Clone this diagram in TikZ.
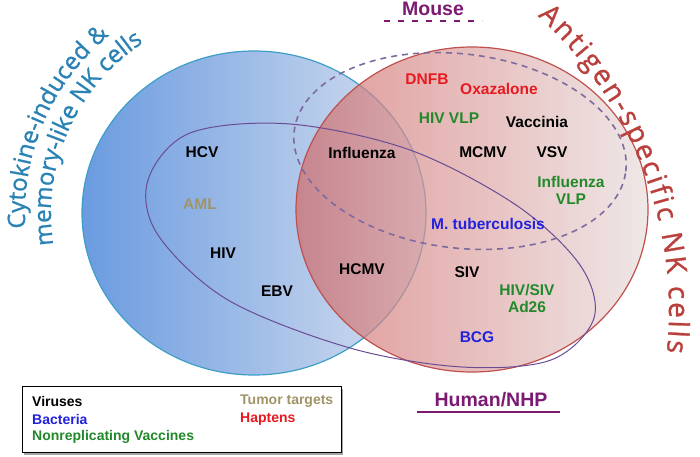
\documentclass[tikz,border=0pt]{standalone}
\usepackage{fontspec}
\setmainfont{Liberation Sans}
\newfontfamily\arcfont[FakeBold=1]{Open Sans}
\usetikzlibrary{decorations.text}
\definecolor{cytblue}{HTML}{2A82B4}
\definecolor{agred}{HTML}{B9403D}
\definecolor{bluedge}{HTML}{3D9FC7}
\definecolor{bluel}{HTML}{6A9BE0}
\definecolor{bluer}{HTML}{D8E0EF}
\definecolor{rededge}{HTML}{C0504D}
\definecolor{redl}{HTML}{D16A68}
\definecolor{redr}{HTML}{E8DDDD}
\definecolor{humline}{HTML}{6A4C93}
\definecolor{mouseline}{HTML}{7D6B9E}
\definecolor{sppurple}{HTML}{7B1A70}
\definecolor{bacblue}{HTML}{2222DD}
\definecolor{vacgreen}{HTML}{22892A}
\definecolor{tumtan}{HTML}{A09468}
\definecolor{hapred}{HTML}{E8191F}

\begin{document}
\begin{tikzpicture}[x=1pt, y=1pt,
    lbl/.style={font=\bfseries\fontsize{15.5}{17}\selectfont, align=center, inner sep=0pt},
    leg/.style={font=\bfseries\fontsize{14}{16}\selectfont, anchor=west, inner sep=0pt},
    sp/.style={font=\bfseries\fontsize{19.5}{22}\selectfont, text=sppurple, inner sep=0pt}]
    \useasboundingbox (0,0) rectangle (700,456);

    % Cell circles
    \draw[bluedge, line width=1.2pt, left color=bluel, right color=bluer] (254,243) ellipse [x radius=172, y radius=162];
    \draw[rededge, line width=1.2pt, left color=redl, right color=redr, fill opacity=0.7] (472,246.5) ellipse [x radius=176, y radius=162.5];

    % Human/NHP and mouse outlines
    \draw[humline, line width=1pt] plot[smooth cycle, tension=0.55] coordinates {(594,138) (551,96) (462,89) (350,108) (228,156) (158,221) (148,276) (190,323) (290,332) (410,306) (516,251) (580,191)};
    \draw[mouseline, line width=1.6pt, dash pattern=on 6pt off 5pt, rotate around={-7:(460,305)}] (460,305) ellipse [x radius=167, y radius=97];

    % Curved titles
    \path[decorate, decoration={text along path, text align=center, text={|\arcfont\fontsize{24}{28}\selectfont\color{cytblue}|Cytokine-induced {\&}}}] (254,243) ++(200:229) arc[start angle=200, end angle=113, radius=229];
    \path[decorate, decoration={text along path, text align=center, text={|\arcfont\fontsize{24}{28}\selectfont\color{cytblue}|memory-like NK cells}}] (254,243) ++(201:203) arc[start angle=201, end angle=111, radius=203];
    \path[decorate, decoration={text along path, text align=fit to path, text={|\arcfont\fontsize{28}{32}\selectfont\color{agred}|Antigen-specific NK cells}}] (272,145) ++(48:397) arc[start angle=48, end angle=-6, radius=397];

    % Species
    \node[sp] (mouse) at (433,447) {Mouse};
    \coordinate (mouseL) at (384,435);
    \coordinate (mouseR) at (482,435);
    \draw[sppurple, line width=1.5pt, dash pattern=on 6pt off 8pt] (mouseL) -- (mouseR);
    \node[sp] (human) at (491,56) {Human/NHP};
    \coordinate (humanL) at (417,44);
    \coordinate (humanR) at (560,44);
    \draw[sppurple, line width=1.5pt] (humanL) -- (humanR);

    % Targets
    \node[lbl] (hcv) at (202,304) {HCV};
    \node[lbl, text=tumtan] (aml) at (200,252) {AML};
    \node[lbl] (hiv) at (223,203) {HIV};
    \node[lbl] (ebv) at (277,165) {EBV};
    \node[lbl] (flu) at (362,303) {Influenza};
    \node[lbl] (hcmv) at (362,187) {HCMV};
    \node[lbl, text=hapred] (dnfb) at (427,377) {DNFB};
    \node[lbl, text=hapred] (oxa) at (499,367) {Oxazalone};
    \node[lbl, text=vacgreen] (hivvlp) at (449,338) {HIV VLP};
    \node[lbl] (vacc) at (537,334) {Vaccinia};
    \node[lbl] (mcmv) at (483,304) {MCMV};
    \node[lbl] (vsv) at (552,304) {VSV};
    \node[lbl, text=vacgreen] (fluvlp) at (571,266) {Influenza\\VLP};
    \node[lbl, text=bacblue] (mtb) at (488,232) {M. tuberculosis};
    \node[lbl] (siv) at (467,184) {SIV};
    \node[lbl, text=vacgreen] (ad26) at (527,158) {HIV/SIV\\Ad26};
    \node[lbl, text=bacblue] (bcg) at (477,119) {BCG};

    % Legend
    \fill[black!35] (24,1) rectangle (343,67);
    \node[draw, line width=1pt, fill=white, anchor=south west, inner sep=0pt, minimum width=319pt, minimum height=66pt] (legend) at (22,3) {};
    \node[leg] (legvir) at (32,55) {Viruses};
    \node[leg, text=bacblue] (legbac) at (32,37) {Bacteria};
    \node[leg, text=vacgreen] (legvac) at (32,19) {Nonreplicating Vaccines};
    \node[leg, text=tumtan] (legtum) at (240,55) {Tumor targets};
    \node[leg, text=hapred] (leghap) at (240,37) {Haptens};
\end{tikzpicture}
\end{document}
